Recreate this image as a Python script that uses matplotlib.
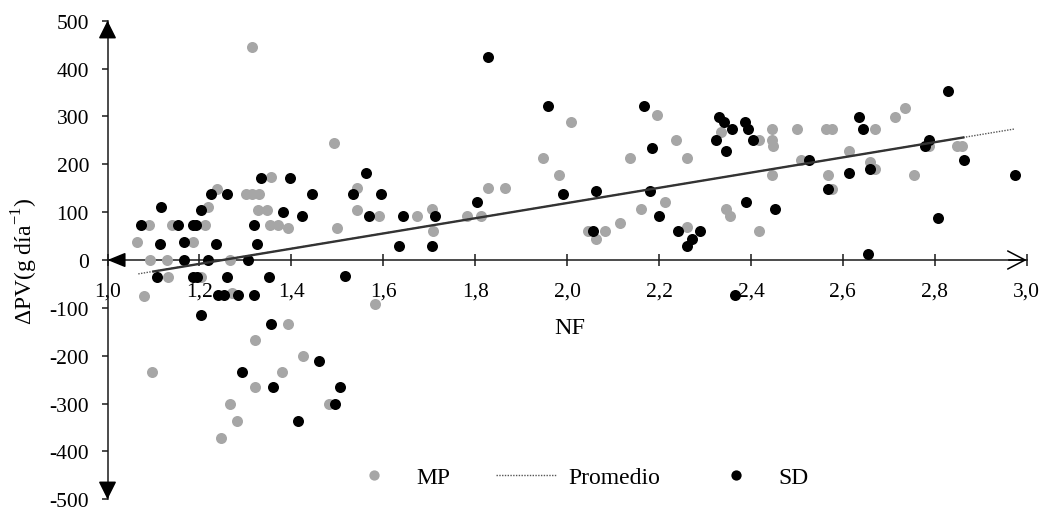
import matplotlib
matplotlib.use('Agg')
import matplotlib.pyplot as plt
from matplotlib.lines import Line2D

plt.rcParams['font.family'] = ['Liberation Serif', 'DejaVu Serif']
plt.rcParams['mathtext.fontset'] = 'custom'
plt.rcParams['mathtext.rm'] = 'Liberation Serif'
plt.rcParams['axes.unicode_minus'] = False

# ---- data ----
mp_x = [1.314, 1.493, 1.355, 1.238, 1.301, 1.314, 1.330, 1.219, 1.328, 1.348,
        1.090, 1.141, 1.212, 1.354, 1.370, 1.393, 1.500, 1.065, 1.185,
        1.092, 1.129, 1.267, 1.132, 1.203, 1.079, 1.270, 1.392, 1.322, 1.426,
        1.096, 1.379, 1.322, 1.267, 1.483, 1.282, 1.246, 1.582,
        1.542, 1.542, 1.591, 1.674, 1.705, 1.709, 1.782, 1.813, 1.827, 1.865,
        2.008, 2.196, 2.237, 2.260, 1.948, 1.983, 2.137, 2.213, 2.161, 2.115,
        2.083, 2.046, 2.063, 2.260,
        2.735, 2.713, 2.671, 2.445, 2.501, 2.563, 2.576, 2.334, 2.417, 2.445,
        2.449, 2.508, 2.613, 2.658, 2.670, 2.568, 2.445, 2.755, 2.787, 2.848,
        2.859, 2.576, 2.345, 2.355, 2.418]
mp_y = [445, 245, 174, 148, 138, 138, 138, 110, 105, 105,
        74, 74, 74, 74, 74, 67, 67, 38, 37,
        0, 0, 0, -36, -36, -76, -68, -134, -167, -200,
        -234, -234, -266, -300, -300, -337, -371, -92,
        151, 105, 91, 91, 107, 61, 91, 91, 151, 151,
        288, 304, 251, 214, 214, 178, 214, 121, 107, 77,
        61, 61, 44, 68,
        318, 298, 274, 274, 274, 274, 274, 267, 251, 251,
        238, 208, 227, 204, 191, 178, 178, 178, 238, 238,
        238, 148, 107, 91, 61]

sd_x = [1.334, 1.396, 1.225, 1.260, 1.444, 1.535, 1.203, 1.117, 1.381, 1.423,
        1.073, 1.153, 1.186, 1.192, 1.319, 1.115, 1.167, 1.236, 1.326,
        1.167, 1.218, 1.305, 1.107, 1.185, 1.194, 1.260, 1.351, 1.517,
        1.241, 1.253, 1.285, 1.319, 1.204, 1.355, 1.461, 1.292, 1.361, 1.506,
        1.494, 1.414,
        1.562, 1.594, 1.570, 1.642, 1.713, 1.635, 1.705, 1.805,
        1.827, 1.959, 2.167, 2.185, 1.990, 2.063, 2.181, 2.199, 2.057, 2.241, 2.260,
        2.828, 2.636, 2.643, 2.331, 2.341, 2.358, 2.386, 2.394, 2.324, 2.404,
        2.345, 2.526, 2.658, 2.613, 2.787, 2.779, 2.863, 2.974, 2.807, 2.655,
        2.568, 2.452, 2.390, 2.289, 2.272, 2.365]
sd_y = [171, 171, 138, 138, 138, 138, 105, 111, 101, 91,
        74, 74, 74, 74, 74, 33, 37, 33, 33,
        0, 0, 0, -36, -36, -36, -36, -36, -33,
        -73, -73, -73, -73, -114, -134, -211, -234, -266, -266,
        -300, -337,
        181, 138, 91, 91, 91, 30, 30, 121,
        424, 322, 322, 234, 137, 144, 144, 91, 61, 61, 30,
        354, 298, 274, 298, 288, 274, 288, 274, 251, 251,
        227, 208, 191, 181, 251, 238, 208, 178, 88, 13,
        148, 107, 121, 61, 44, -73]

avg_x = [1.067, 2.975]
avg_y = [-29, 274]
fit_x = [1.10, 2.862]
fit_y = [-24, 256]

xticks = [1.0, 1.2, 1.4, 1.6, 1.8, 2.0, 2.2, 2.4, 2.6, 2.8, 3.0]
xtick_labels = ['1,0', '1,2', '1,4', '1,6', '1,8', '2,0', '2,2', '2,4', '2,6', '2,8', '3,0']
yticks = [-500, -400, -300, -200, -100, 0, 100, 200, 300, 400, 500]
ytick_labels = [str(v) for v in yticks]

MP_COLOR = '#a6a6a6'
SD_COLOR = 'black'

W, H = 1047, 510
fig = plt.figure(figsize=(W / 100, H / 100), dpi=100)
ax = fig.add_axes([107.5 / W, 9.7 / H, 919.2 / W, 478.6 / H])
ax.set_xlim(1, 3)
ax.set_ylim(-500, 500)

for s in ['top', 'right']:
    ax.spines[s].set_visible(False)
ax.spines['left'].set_position(('data', 1.0))
ax.spines['bottom'].set_position(('data', 0))
for s in ['left', 'bottom']:
    ax.spines[s].set_linewidth(1.1)
    ax.spines[s].set_color('#1a1a1a')

ax.set_xticks(xticks, labels=xtick_labels)
ax.set_yticks(yticks, labels=ytick_labels)
ax.tick_params(axis='x', direction='inout', length=8.6, width=1.1, pad=11.5,
               labelsize=15.5, color='#1a1a1a')
ax.tick_params(axis='y', direction='out', length=4.3, width=1.1, pad=9,
               labelsize=15.5, color='#1a1a1a')

ax.scatter(mp_x, mp_y, s=63, color=MP_COLOR, linewidths=0, zorder=3,
           label='MP', clip_on=False)
ax.scatter(sd_x, sd_y, s=63, color=SD_COLOR, linewidths=0, zorder=4,
           label='SD', clip_on=False)
prom, = ax.plot(avg_x, avg_y, linestyle=(0, (1, 1)), color='#555555', lw=1.0,
                label='Promedio', zorder=5)
ax.plot(fit_x, fit_y, '-', color='#333333', lw=1.7, zorder=5)

def arrow(xy, off, style):
    ax.annotate('', xy=xy, xytext=off, textcoords='offset pixels',
                arrowprops=dict(arrowstyle=style, color='black', lw=1.1,
                                shrinkA=0, shrinkB=0, mutation_scale=10),
                annotation_clip=False)

arrow((1.0, 500), (0, -16), '-|>,head_length=1.1,head_width=0.55')
arrow((1.0, -500), (0, 16), '-|>,head_length=1.1,head_width=0.55')
arrow((1.0, 0), (16, 0), '-|>,head_length=1.1,head_width=0.45')
arrow((3.0, 0), (-18, 0), '->,head_length=1.25,head_width=0.65')

ax.set_ylabel('ΔPV(g día$^{-1}$)', fontsize=17, va='center')
ax.yaxis.set_label_coords((25 - 107.5) / 919.2, 0.5)
ax.set_xlabel('NF', fontsize=17.5, va='center')
ax.xaxis.set_label_coords(0.503, (500.3 - 328) / 478.6)

mp_handle = Line2D([], [], linestyle='none', marker='o', markersize=7.4,
                   markeredgewidth=0, color=MP_COLOR, label='MP')
sd_handle = Line2D([], [], linestyle='none', marker='o', markersize=7.4,
                   markeredgewidth=0, color=SD_COLOR, label='SD')
fig.legend(handles=[mp_handle, prom, sd_handle], loc='center',
           bbox_to_anchor=(576.3 / W, 1 - 478 / H), bbox_transform=fig.transFigure,
           ncol=3, frameon=False, handlelength=2.6, handletextpad=0.5,
           columnspacing=1.9, fontsize=17, numpoints=1, borderpad=0.2)

fig.savefig('out.png', dpi=100)
